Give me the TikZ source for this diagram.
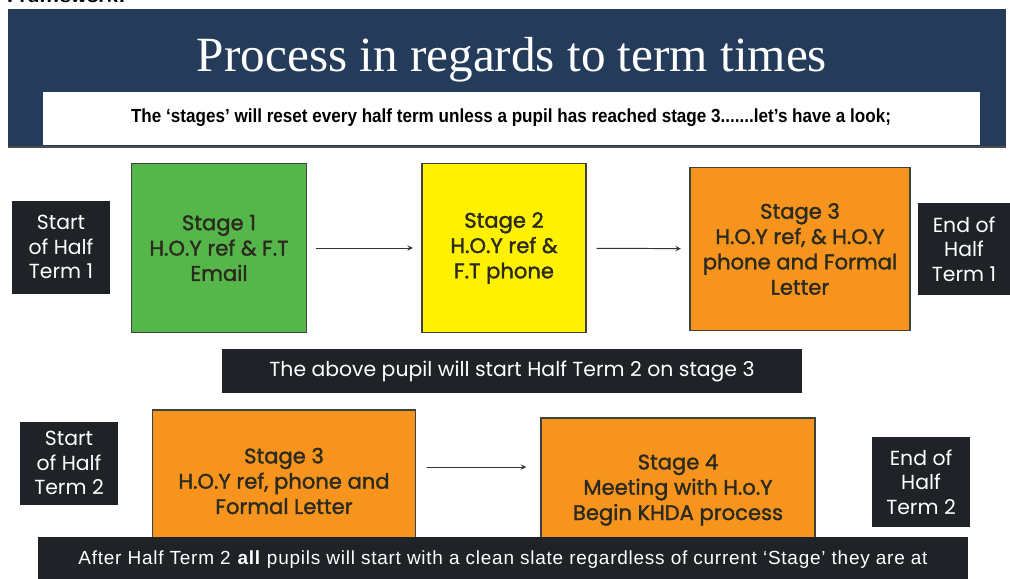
\documentclass[tikz,border=0pt]{standalone}
\usepackage{fontspec}
\setmainfont{Poppins}
\newfontfamily\stagefont[FakeBold=1.5]{Poppins}
\newfontfamily\headfont{Liberation Serif}
\newfontfamily\narrowfont[FakeStretch=0.9]{Liberation Sans}
\newfontfamily\plainfont[LetterSpace=4]{Liberation Sans}
\definecolor{bandblue}{HTML}{243B5A}
\definecolor{termgrey}{HTML}{1F2327}
\definecolor{stagegreen}{HTML}{55B74A}
\definecolor{stageyellow}{HTML}{FFF100}
\definecolor{stageorange}{HTML}{F7941E}
\definecolor{stagetext}{HTML}{2B2A1E}
\def\px{0.025cm}% one pixel
\begin{document}
\begin{tikzpicture}[x=0.025cm,y=-0.025cm,>=stealth,
    size/.style 2 args={minimum width=#1*\px,minimum height=#2*\px},
    termbox/.style={fill=termgrey,text=white,align=center,inner sep=0pt,
        font=\fontsize{14.5}{17.5}\selectfont},
    stagebox/.style={draw=black!75,line width=1pt,align=center,inner sep=0pt,
        text=stagetext,font=\stagefont\fontsize{15}{18}\selectfont},
    banner/.style={fill=termgrey,text=white,inner sep=0pt},
    flow/.style={->,draw=black!80,line width=0.7pt}]
    \useasboundingbox (0,0) rectangle (1010,578);
    \clip (0,0) rectangle (1010,578);
    % heading
    \node[anchor=base west,font=\sffamily\bfseries\fontsize{16}{16}\selectfont,inner sep=0pt] (frame) at (6,3) {Framework:};
    \fill[bandblue] (8,9) rectangle (1006,148);
    \draw[black!70,line width=1.5pt] (8,147) -- (1006,147);
    \node[text=white,font=\headfont\fontsize{35}{35}\selectfont] (title) at (512,60) {Process in regards to term times};
    \node[fill=white,size={937}{53},font=\narrowfont\bfseries\fontsize{13.5}{13.5}\selectfont] (intro) at (511,118)
        {The ‘stages’ will reset every half term unless a pupil has reached stage 3.......let’s have a look;};
    % half term 1
    \node[termbox,size={98}{93}] (start1) at (61,247) {Start\\of Half\\Term 1};
    \node[stagebox,fill=stagegreen,size={175}{169}] (s1) at (219,248) {Stage 1\\H.O.Y ref \& F.T\\Email};
    \node[stagebox,fill=stageyellow,size={164}{169}] (s2) at (504,248) {Stage 2\\H.O.Y ref \&\\F.T phone};
    \node[stagebox,fill=stageorange,size={220}{163}] (s3) at (800,249) {Stage 3\\H.O.Y ref, \& H.O.Y\\phone and Formal\\Letter};
    \node[termbox,size={92}{92}] (end1) at (964,249) {End of\\Half\\Term 1};
    \draw[flow,shorten <=6pt,shorten >=6pt] (s1) -- (s2);
    \draw[flow,shorten <=7pt,shorten >=6pt] (s2) -- (s3);
    \node[banner,size={580}{44},font=\fontsize{14.5}{14.5}\selectfont] (carry) at (512,371)
        {The above pupil will start Half Term 2 on stage 3};
    % half term 2
    \node[termbox,size={98}{83}] (start2) at (69,463) {Start\\of Half\\Term 2};
    \node[stagebox,fill=stageorange,size={263}{142}] (s3b) at (284,481) {Stage 3\\H.O.Y ref, phone and\\Formal Letter};
    \node[stagebox,fill=stageorange,size={274}{144}] (s4) at (678,490) {Stage 4\\Meeting with H.o.Y\\Begin KHDA process};
    \node[termbox,size={98}{90}] (end2) at (921,482) {End of\\Half\\Term 2};
    \draw[flow,shorten <=8pt,shorten >=10pt] ([yshift=14*\px]s3b.east) -- ([yshift=23*\px]s4.west);
    \node[banner,size={930}{46},font=\plainfont\fontsize{13.5}{13.5}\selectfont] (reset) at (503,560)
        {After Half Term 2 \textbf{all} pupils will start with a clean slate regardless of current ‘Stage’ they are at};
\end{tikzpicture}
\end{document}
